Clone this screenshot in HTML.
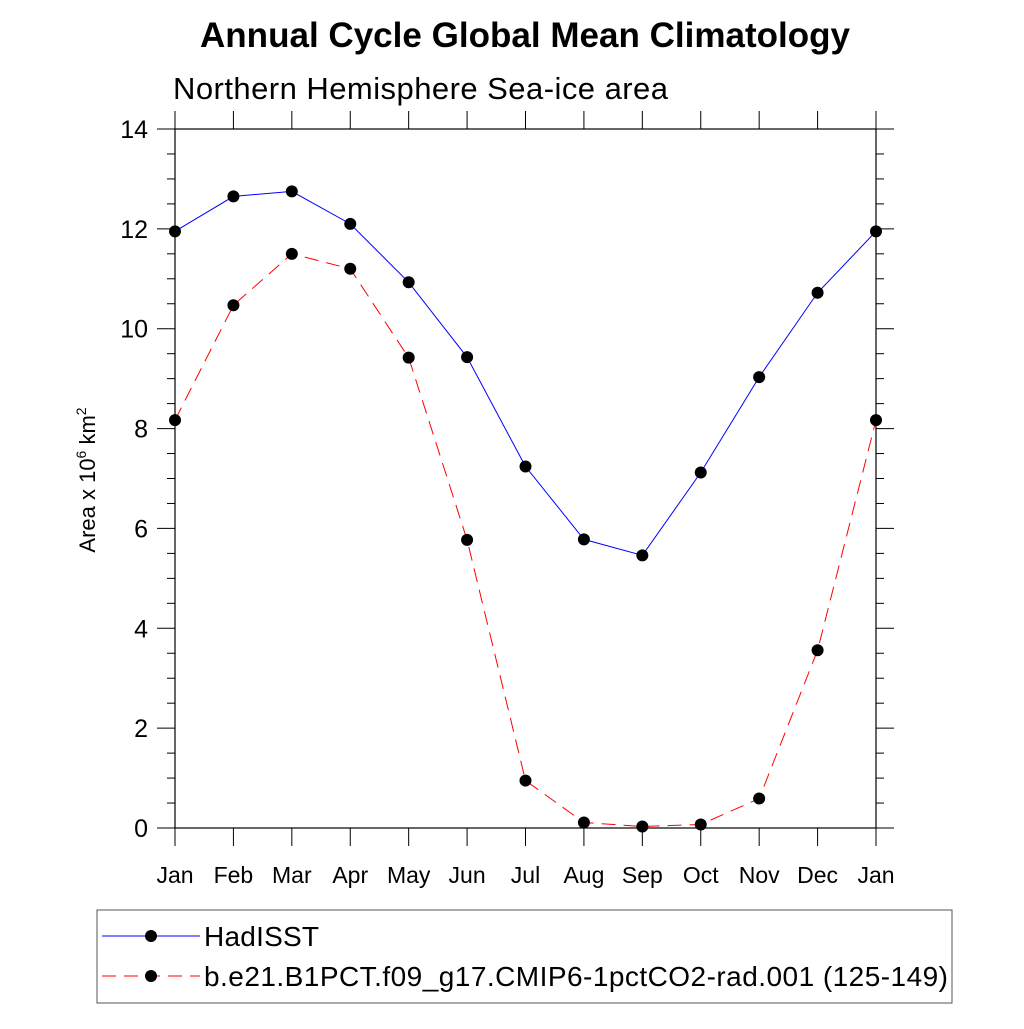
<!DOCTYPE html>
<html><head><meta charset="utf-8"><style>
body{margin:0;background:#fff}
svg{font-family:"Liberation Sans",Arial,sans-serif}
</style></head><body>
<svg id="c" width="1024" height="1024" viewBox="0 0 1024 1024">
<text x="525" y="47" text-anchor="middle" font-size="35" font-weight="bold" textLength="650">Annual Cycle Global Mean Climatology</text>
<text x="173" y="99" font-size="31" textLength="495">Northern Hemisphere Sea-ice area</text>
<text transform="translate(95,480) rotate(-90)" text-anchor="middle" font-size="22">Area x 10<tspan dy="-9" font-size="14">6</tspan><tspan dy="9"> km</tspan><tspan dy="-9" font-size="14">2</tspan></text>
<g id="axes"></g>
<g id="series"></g>
<rect x="97" y="910" width="855" height="93" fill="none" stroke="#555" stroke-width="1"/>
<g>
<line x1="102" y1="936" x2="200" y2="936" stroke="#00f" stroke-width="1"/>
<circle cx="151" cy="936" r="6" fill="#000"/>
<text x="204" y="946" font-size="28" textLength="115">HadISST</text></g>
<g>
<line x1="102" y1="976" x2="200" y2="976" stroke="#f00" stroke-width="1" stroke-dasharray="14,8"/>
<circle cx="151" cy="976" r="6" fill="#000"/>
<text x="204" y="986" font-size="28" textLength="744">b.e21.B1PCT.f09_g17.CMIP6-1pctCO2-rad.001 (125-149)</text></g>
</svg>
<script>
const months=["Jan","Feb","Mar","Apr","May","Jun","Jul","Aug","Sep","Oct","Nov","Dec","Jan"];
const hadisst=[11.95,12.65,12.75,12.1,10.93,9.43,7.24,5.78,5.46,7.12,9.03,10.72,11.95];
const model=[8.17,10.47,11.5,11.2,9.42,5.77,0.95,0.11,0.03,0.07,0.59,3.56,8.17];
const yTicks=[0,2,4,6,8,10,12,14];
const NS="http://www.w3.org/2000/svg";
const L=175,R=876,T=129,B=828;
const xs=i=>L+(R-L)*i/(months.length-1);
const ys=v=>B-(B-T)*v/14;
function mk(tag,a,parent){const e=document.createElementNS(NS,tag);for(const k in a)e.setAttribute(k,a[k]);parent.appendChild(e);return e;}
const ax=document.getElementById('axes');
const fr=mk('rect',{x:L,y:T,width:R-L,height:B-T,fill:'none',stroke:'#000','stroke-width':1.2},ax);


for(let v=0;v<=14.001;v+=0.5){
 const y=ys(v);const maj=Math.abs(v%2)<1e-6;const len=maj?18:8;
 mk('line',{x1:L-len,y1:y,x2:L,y2:y,stroke:'#000'},ax);
 mk('line',{x1:R,y1:y,x2:R+len,y2:y,stroke:'#000'},ax);
}
yTicks.forEach(v=>{const t=mk('text',{x:L-27,y:ys(v)+9,'text-anchor':'end','font-size':25},ax);t.textContent=v;
 
 });
months.forEach((m,i)=>{const x=xs(i);
 mk('line',{x1:x,y1:B,x2:x,y2:B+18,stroke:'#000'},ax);
 mk('line',{x1:x,y1:T-18,x2:x,y2:T,stroke:'#000'},ax);
 const t=mk('text',{x:x,y:883,'text-anchor':'middle','font-size':23},ax);t.textContent=m;
 
 });
const sg=document.getElementById('series');
function series(vals,color,dash,name){
 const g=mk('g',{},sg);
 
 
 const pts=vals.map((v,i)=>xs(i)+','+ys(v)).join(' ');
 const a={points:pts,fill:'none',stroke:color,'stroke-width':1};if(dash)a['stroke-dasharray']=dash;
 mk('polyline',a,g);
 vals.forEach((v,i)=>{const c=mk('circle',{cx:xs(i),cy:ys(v),r:6,fill:'#000'},g);
  
  });
}
series(hadisst,'#00f',null,'series-hadisst');
series(model,'#f00','14,8','series-model');
</script>
</body></html>
